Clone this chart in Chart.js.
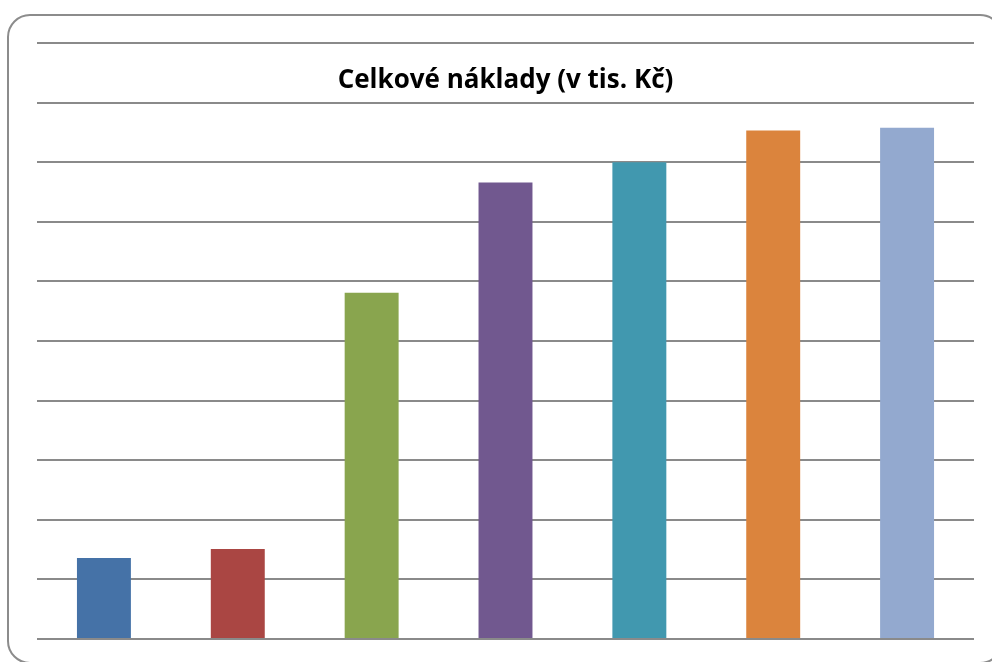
<!DOCTYPE html>
<html>
<head>
<meta charset="utf-8">
<script src="https://cdn.jsdelivr.net/npm/chart.js@4"></script>
<style>
  html, body { margin: 0; padding: 0; background: #fff; overflow: hidden; }
  #wrap { position: relative; width: 992px; height: 662px; overflow: hidden; }
  #frame {
    position: absolute; left: 7px; top: 14px; width: 996px; height: 650px;
    border: 2px solid #8c8c8c; border-radius: 23px; box-sizing: border-box;
  }
  canvas { position: absolute; left: 0; top: 0; }
</style>
</head>
<body>
<div id="wrap">
  <div id="frame"></div>
  <canvas id="costChart" width="992" height="662"></canvas>
</div>
<script>
const chartTitle = 'Celkové náklady (v tis. Kč)';
const categories = ['1', '2', '3', '4', '5', '6', '7'];
const costs = [1.36, 1.51, 5.81, 7.66, 8.0, 8.53, 8.58];
const barColors = ['#4572A7', '#AA4643', '#89A54E', '#71588F', '#4198AF', '#DB843D', '#93A9CF'];
const yTicks = { min: 0, max: 10, step: 1 };

// title sits inside the plot, between the two top grid lines
const innerTitle = {
    id: 'innerTitle',
    afterDraw(chart) {
        const ctx = chart.ctx;
        const area = chart.chartArea;
        const y = chart.scales.y;
        ctx.save();
        ctx.font = 'bold 26px "Open Sans", Lato, sans-serif';
        ctx.fillStyle = '#000';
        ctx.textAlign = 'center';
        ctx.textBaseline = 'alphabetic';
        ctx.fillText(chartTitle, (area.left + area.right) / 2, y.getPixelForValue(9) - 15);
        ctx.restore();
    }
};

const ctx = document.getElementById('costChart').getContext('2d');
const chart = new Chart(ctx, {
    type: 'bar',
    data: {
        labels: categories,
        datasets: [{
            label: chartTitle,
            data: costs,
            backgroundColor: barColors,
            borderWidth: 0,
            categoryPercentage: 1,
            barPercentage: 0.403
        }]
    },
    options: {
        responsive: false,
        animation: false,
        layout: { padding: { left: 37, top: 43, right: 18, bottom: 23 } },
        plugins: {
            legend: { display: false },
            title: { display: false },
            tooltip: { enabled: false }
        },
        scales: {
            x: { display: false },
            y: {
                min: yTicks.min,
                max: yTicks.max,
                ticks: { display: false, stepSize: yTicks.step },
                grid: { color: '#8a8a8a', lineWidth: 2, drawTicks: false },
                border: { display: false }
            }
        }
    },
    plugins: [innerTitle]
});
</script>
</body>
</html>
